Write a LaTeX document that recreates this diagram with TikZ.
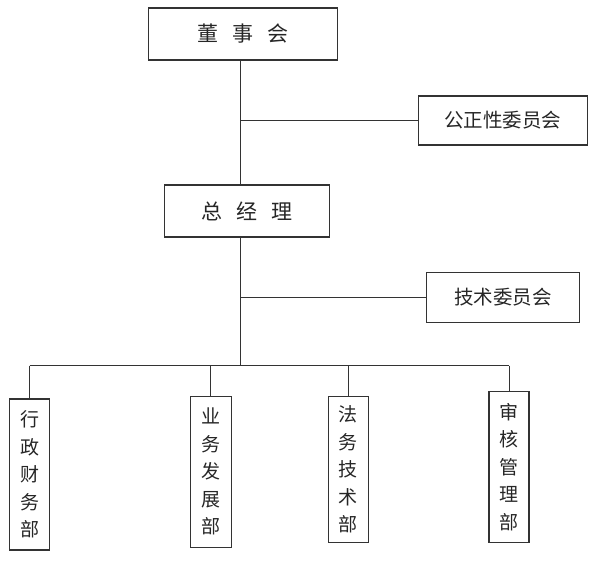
\documentclass[tikz,border=0pt]{standalone}
\usepackage{fontspec}
\setmainfont{Noto Sans CJK SC}
\begin{document}
\begin{tikzpicture}[x=1pt,y=-1pt,
  box/.style={draw=black!80,line width=1.1pt,inner sep=0pt,align=center,text=black!85},
  hbig/.style={box,font=\fontsize{21}{24}\selectfont},
  hmid/.style={box,font=\fontsize{19.5}{24}\selectfont},
  vbox/.style={box,font=\fontsize{19}{27.5}\selectfont,minimum width=40pt},
  conn/.style={draw=black!80,line width=1pt}]
\useasboundingbox (0,0) rectangle (597,568);
\node[hbig,minimum width=189pt,minimum height=52pt] (top) at (243,34) {董\hspace{14pt}事\hspace{14pt}会};
\node[hmid,minimum width=169pt,minimum height=49pt] (fair) at (502.8,120.5) {公正性委员会};
\node[hbig,minimum width=165pt,minimum height=52pt] (mgr) at (246.7,211) {总\hspace{14pt}经\hspace{14pt}理};
\node[hmid,minimum width=152.6pt,minimum height=50.4pt] (tech) at (503,297.5) {技术委员会};
\node[vbox,minimum height=151pt] (d1) at (29.7,474.5) {行\\政\\财\\务\\部};
\node[vbox,minimum width=41.3pt,minimum height=151pt] (d2) at (210.7,471.8) {业\\务\\发\\展\\部};
\node[vbox,minimum height=146.4pt] (d3) at (348.3,469.5) {法\\务\\技\\术\\部};
\node[vbox,minimum height=151pt] (d4) at (509,466.8) {审\\核\\管\\理\\部};
\coordinate (j1) at (240.3,120.5);
\coordinate (j2) at (240.3,297.5);
\coordinate (bus) at (240.3,365.5);
\draw[conn] (j1 |- top.south) -- (j1 |- mgr.north);
\draw[conn] (j1) -- (fair.west);
\draw[conn] (j2 |- mgr.south) -- (bus);
\draw[conn] (j2) -- (tech.west);
\draw[conn] (d1.north |- bus) -- (d4.north |- bus);
\draw[conn] (d1.north |- bus) -- (d1.north);
\draw[conn] (d2.north |- bus) -- (d2.north);
\draw[conn] (d3.north |- bus) -- (d3.north);
\draw[conn] (d4.north |- bus) -- (d4.north);
\end{tikzpicture}
\end{document}
